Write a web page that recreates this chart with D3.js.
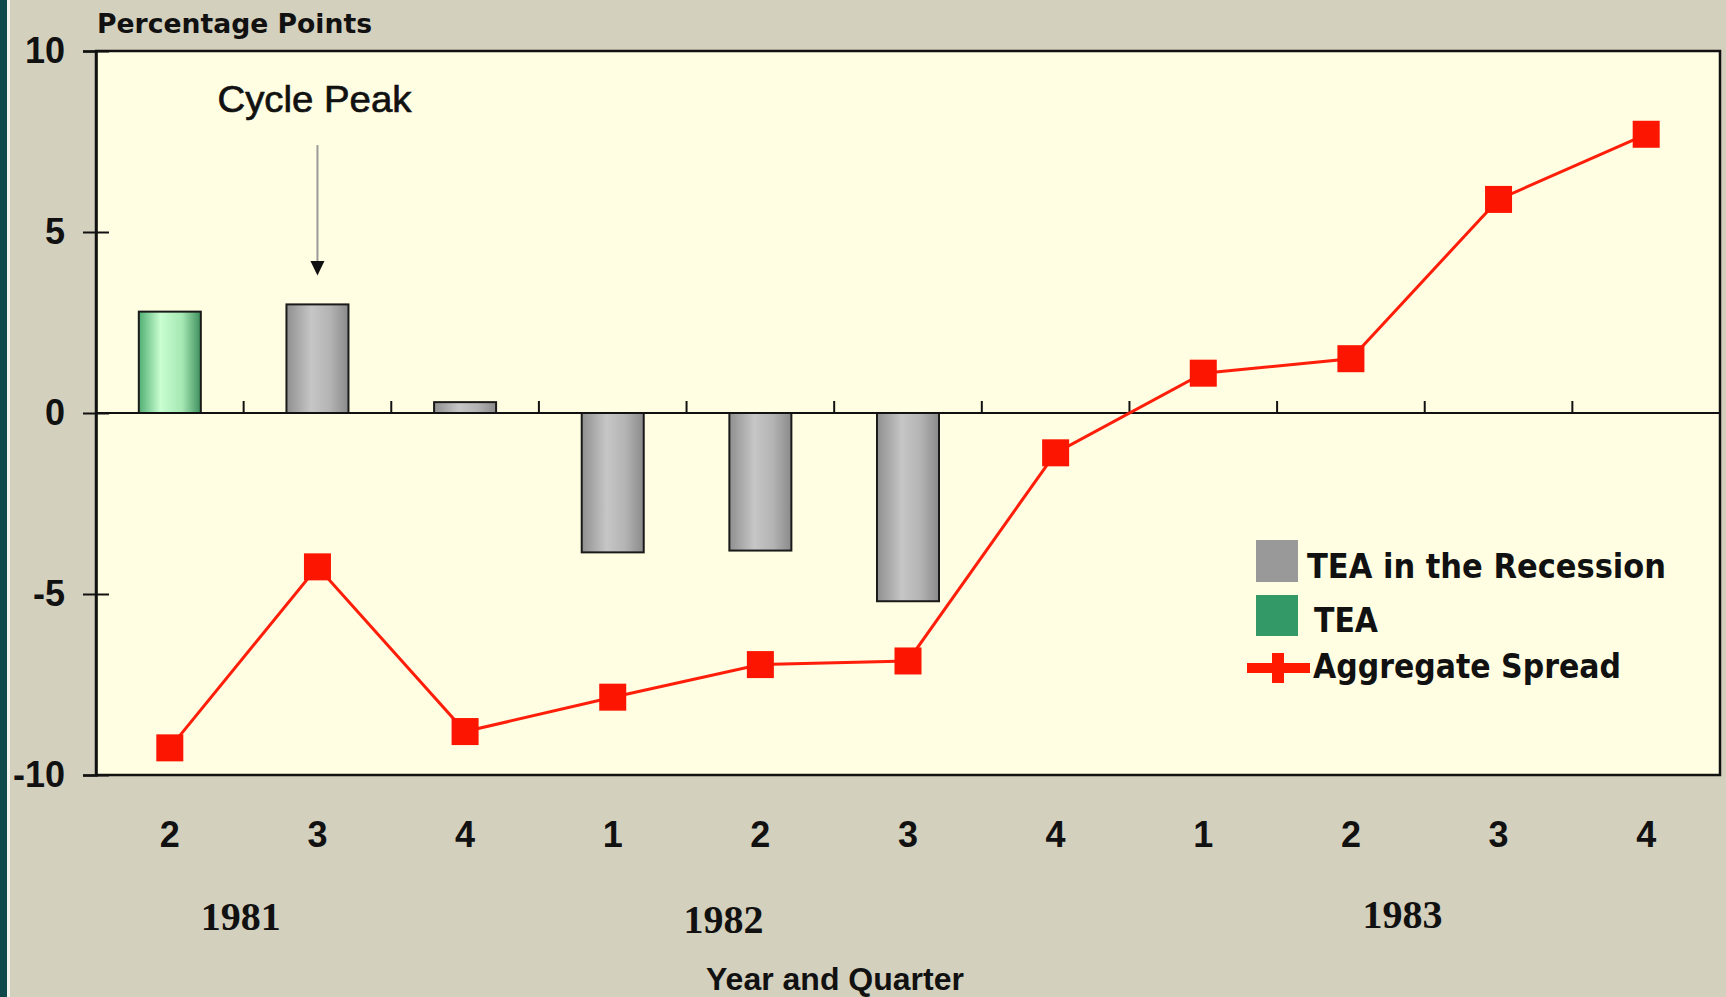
<!DOCTYPE html>
<html>
<head>
<meta charset="utf-8">
<script src="https://cdn.jsdelivr.net/npm/d3@7"></script>
<style>
  html, body { margin: 0; padding: 0; background: #d4d0be; }
  svg { display: block; }
</style>
</head>
<body>
<svg id="chart" width="1726" height="997"></svg>
<script>
// quarters along the x axis (1981 Q2 .. 1983 Q4)
const quarters = ["2", "3", "4", "1", "2", "3", "4", "1", "2", "3", "4"];
const years = ["1981", "1982", "1983"];
// TEA before the recession (green) and during it (gray)
const teaValues = [2.8, null, null, null, null, null, null, null, null, null, null];
const recessionValues = [null, 3.0, 0.3, -3.85, -3.8, -5.2, null, null, null, null, null];
// aggregate spread line
const spreadValues = [-9.25, -4.25, -8.8, -7.85, -6.95, -6.85, -1.1, 1.1, 1.5, 5.9, 7.7];
const yTicks = [-10, -5, 0, 5, 10];

const W = 1726, H = 997;
const plot = {left: 96, top: 51, right: 1720, bottom: 775};

const svg = d3.select("#chart");

const x = d3.scaleBand()
    .domain(d3.range(quarters.length))
    .range([plot.left, plot.right]);
const xc = i => x(i) + x.bandwidth() / 2;
const y = d3.scaleLinear().domain([-10, 10]).range([plot.bottom, plot.top]);

// gradients for the shaded bars
const defs = svg.append("defs");
function addGradient(id, stops) {
    let g = defs.append("linearGradient").attr("id", id)
        .attr("x1", "0%").attr("x2", "100%").attr("y1", "0%").attr("y2", "0%");
    stops.forEach(s => g.append("stop").attr("offset", s[0]).attr("stop-color", s[1]));
}
addGradient("grayGrad", [["0%", "#8f8f8f"], ["40%", "#c6c6c6"], ["70%", "#b4b4b4"], ["100%", "#8a8a8a"]]);
addGradient("greenGrad", [["0%", "#4fae72"], ["35%", "#c8fed0"], ["70%", "#a6e8b4"], ["100%", "#3d8f5c"]]);

// page background + left edge strip
svg.append("rect").attr("width", W).attr("height", H).attr("fill", "#d4d0be");
svg.append("rect").attr("width", 7).attr("height", H).attr("fill", "#0e4a4c");
svg.append("rect").attr("x", 7).attr("width", 3).attr("height", H).attr("fill", "#f4f4ee");

// plot area
svg.append("rect")
    .attr("x", plot.left).attr("y", plot.top)
    .attr("width", plot.right - plot.left).attr("height", plot.bottom - plot.top)
    .attr("fill", "#fffee2");

// bars
const barW = x.bandwidth() * 0.42;
function drawBars(values, fill, cls) {
    let data = values.map((v, i) => ({i: i, v: v})).filter(d => d.v !== null);
    svg.append("g").selectAll("." + cls)
        .data(data)
        .enter()
        .append("rect")
        .attr("class", cls)
        .attr("x", d => xc(d.i) - barW / 2)
        .attr("y", d => y(Math.max(0, d.v)))
        .attr("width", barW)
        .attr("height", d => Math.abs(y(d.v) - y(0)))
        .attr("fill", fill)
        .attr("stroke", "#1a1a1a")
        .attr("stroke-width", 2);
}
drawBars(teaValues, "url(#greenGrad)", "tea-bar");
drawBars(recessionValues, "url(#grayGrad)", "rec-bar");

// zero line with category ticks pointing up
svg.append("line")
    .attr("x1", plot.left).attr("x2", plot.right)
    .attr("y1", y(0)).attr("y2", y(0))
    .attr("stroke", "#111").attr("stroke-width", 2);
svg.append("g").selectAll("line")
    .data(d3.range(1, quarters.length))
    .enter()
    .append("line")
    .attr("x1", d => x(d)).attr("x2", d => x(d))
    .attr("y1", y(0)).attr("y2", y(0) - 12)
    .attr("stroke", "#111").attr("stroke-width", 2);

// frame
svg.append("rect")
    .attr("x", plot.left).attr("y", plot.top)
    .attr("width", plot.right - plot.left).attr("height", plot.bottom - plot.top)
    .attr("fill", "none").attr("stroke", "#111").attr("stroke-width", 2.5);

// y axis (plain hyphen for negatives, as in the original)
const yAxis = svg.append("g")
    .attr("transform", `translate(${plot.left},0)`)
    .call(d3.axisLeft(y).tickValues(yTicks).tickSize(13).tickPadding(18).tickFormat(d => String(d)));
yAxis.select(".domain").attr("stroke", "#111").attr("stroke-width", 2.5);
yAxis.selectAll(".tick line").attr("stroke", "#111").attr("stroke-width", 2).attr("x1", 13);
yAxis.selectAll(".tick text")
    .attr("font-family", "'Liberation Sans', Arial, sans-serif")
    .attr("font-size", 36).attr("font-weight", "bold").attr("fill", "#111");

// spread line + markers
const line = d3.line().x((d, i) => xc(i)).y(d => y(d));
svg.append("path")
    .datum(spreadValues)
    .attr("d", line)
    .attr("fill", "none")
    .attr("stroke", "#ff1e0a")
    .attr("stroke-width", 3);
const mk = 27;
svg.append("g").selectAll("rect")
    .data(spreadValues)
    .enter()
    .append("rect")
    .attr("x", (d, i) => xc(i) - mk / 2)
    .attr("y", d => y(d) - mk / 2)
    .attr("width", mk).attr("height", mk)
    .attr("fill", "#fc1500");

// cycle peak annotation
const peakX = xc(1);
svg.append("line")
    .attr("x1", peakX).attr("x2", peakX)
    .attr("y1", y(7.4)).attr("y2", y(4.1))
    .attr("stroke", "#9a9a9a").attr("stroke-width", 2);
svg.append("path")
    .attr("d", `M${peakX - 7},${y(4.2)} L${peakX + 7},${y(4.2)} L${peakX},${y(3.8)} Z`)
    .attr("fill", "#111");
svg.append("text")
    .attr("x", peakX - 3).attr("y", 112)
    .attr("text-anchor", "middle")
    .attr("font-family", "'Liberation Sans', Arial, sans-serif")
    .attr("font-size", 37)
    .attr("textLength", 194).attr("lengthAdjust", "spacingAndGlyphs")
    .attr("fill", "#111")
    .attr("stroke", "#111").attr("stroke-width", 0.7)
    .text("Cycle Peak");

// axis title top
svg.append("text")
    .attr("x", 97).attr("y", 33)
    .attr("font-family", "'DejaVu Sans', Verdana, sans-serif")
    .attr("font-size", 27).attr("font-weight", "bold")
    .attr("textLength", 275).attr("lengthAdjust", "spacingAndGlyphs")
    .attr("fill", "#111")
    .text("Percentage Points");

// quarter labels
svg.append("g").selectAll("text")
    .data(quarters)
    .enter()
    .append("text")
    .attr("x", (d, i) => xc(i))
    .attr("y", 847)
    .attr("text-anchor", "middle")
    .attr("font-family", "'Liberation Sans', Arial, sans-serif")
    .attr("font-size", 36).attr("font-weight", "bold")
    .attr("fill", "#111")
    .text(d => d);

// year labels (anchored as fractional quarter index)
const yearAt = [0.98, 4.25, 8.85];
const yearBase = [930, 933, 928];
const xi = d3.scaleLinear().domain([0, quarters.length]).range([plot.left, plot.right]);
svg.append("g").selectAll("text")
    .data(years)
    .enter()
    .append("text")
    .attr("x", (d, i) => xi(yearAt[i]))
    .attr("y", (d, i) => yearBase[i])
    .attr("text-anchor", "middle")
    .attr("font-family", "'Liberation Serif', 'Times New Roman', serif")
    .attr("font-size", 40).attr("font-weight", "bold")
    .attr("textLength", 80).attr("lengthAdjust", "spacingAndGlyphs")
    .attr("fill", "#111")
    .text(d => d);

// x axis title
svg.append("text")
    .attr("x", 835).attr("y", 990)
    .attr("text-anchor", "middle")
    .attr("font-family", "'Liberation Sans', Arial, sans-serif")
    .attr("font-size", 32).attr("font-weight", "bold")
    .attr("textLength", 258).attr("lengthAdjust", "spacingAndGlyphs")
    .attr("fill", "#111")
    .text("Year and Quarter");

// legend
const legend = svg.append("g").attr("class", "legend");
const legFont = "'DejaVu Sans', Tahoma, Verdana, sans-serif";
legend.append("rect").attr("x", 1256).attr("y", 540).attr("width", 42).attr("height", 42).attr("fill", "#999999");
legend.append("rect").attr("x", 1256).attr("y", 595).attr("width", 42).attr("height", 41).attr("fill", "#339966");
legend.append("rect").attr("x", 1247).attr("y", 663).attr("width", 63).attr("height", 10).attr("fill", "#ff1a00");
legend.append("rect").attr("x", 1272).attr("y", 653).attr("width", 12).attr("height", 30).attr("fill", "#ff1a00");
const legItems = [
    {label: "TEA in the Recession", x: 1307, y: 578, len: 359},
    {label: "TEA", x: 1314, y: 632, len: 64},
    {label: "Aggregate Spread", x: 1313, y: 678, len: 308}
];
legend.selectAll("text")
    .data(legItems)
    .enter()
    .append("text")
    .attr("x", d => d.x).attr("y", d => d.y)
    .attr("font-family", legFont)
    .attr("font-size", 34).attr("font-weight", "bold")
    .attr("textLength", d => d.len).attr("lengthAdjust", "spacingAndGlyphs")
    .attr("fill", "#111")
    .text(d => d.label);
</script>
</body>
</html>
